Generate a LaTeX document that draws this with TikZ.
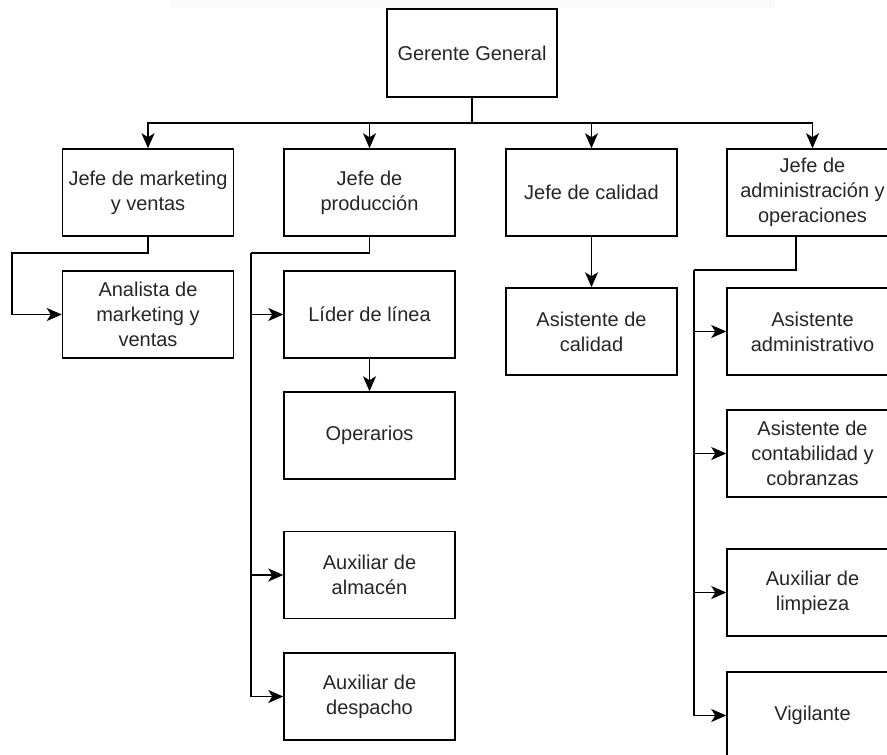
\documentclass[tikz,border=0pt]{standalone}
\usepackage{fontspec}
\setmainfont{Liberation Sans}
\usetikzlibrary{arrows.meta}
\tikzset{
  box/.style={draw=black, line width=1.5pt, minimum width=171pt, minimum height=87pt,
    align=center, inner sep=2pt, text=black!85,
    font=\fontsize{20}{25}\selectfont},
  link/.style={draw=black, line width=1.5pt},
  arr/.style={link, -{Stealth[length=15pt,width=13pt,inset=4pt]}}
}
\begin{document}
\begin{tikzpicture}[x=1pt,y=-1pt]
\useasboundingbox (0,0) rectangle (887,755);
\clip (0,0) rectangle (887,755);
\fill[white] (0,0) rectangle (887,755);
% faint watermark band
\fill[gray!4] (170,0) rectangle (775,8);

\node[box, minimum width=170pt, minimum height=88pt] (GG) at (472,53) {Gerente General};

\node[box] (JM) at (148,192.5) {Jefe de marketing\\y ventas};
\node[box] (JP) at (369.5,192.5) {Jefe de\\producción};
\node[box] (JC) at (591.5,192.5) {Jefe de calidad};
\node[box] (JA) at (812.5,192.5) {Jefe de\\administración y\\operaciones};

\node[box] (AM) at (148,314.5) {Analista de\\marketing y\\ventas};
\node[box] (LL) at (369.5,314.5) {Líder de línea};
\node[box] (OP) at (369.5,435.5) {Operarios};
\node[box] (AA) at (369.5,575) {Auxiliar de\\almacén};
\node[box] (AD) at (369.5,696.5) {Auxiliar de\\despacho};

\node[box] (ACal) at (591.5,331.5) {Asistente de\\calidad};

\node[box] (AAdm) at (812.5,331.5) {Asistente\\administrativo};
\node[box] (ACont) at (812.5,453.5) {Asistente de\\contabilidad y\\cobranzas};
\node[box] (AL) at (812.5,592.5) {Auxiliar de\\limpieza};
\node[box] (VG) at (812.5,715.5) {Vigilante};

% top bus
\coordinate (bus) at (472,123);
\draw[link] (GG.south) -- (bus);
\draw[arr] (bus) -| (JM.north);
\draw[arr] (bus) -| (JP.north);
\draw[arr] (bus) -| (JC.north);
\draw[arr] (bus) -| (JA.north);

% marketing
\coordinate (m1) at (12,253);
\draw[arr] (JM.south) |- (m1) |- (AM.west);

% produccion
\coordinate (p1) at (251,253);
\draw[link] (JP.south) |- (p1);
\draw[arr] (p1) |- (LL.west);
\draw[arr] (p1) |- (AA.west);
\draw[arr] (p1) |- (AD.west);
\draw[arr] (LL.south) -- (OP.north);

% calidad
\draw[arr] (JC.south) -- (ACal.north);

% administracion
\coordinate (a1) at (694,270);
\draw[link] ([xshift=-16.5pt]JA.south) |- (a1);
\draw[arr] (a1) |- (AAdm.west);
\draw[arr] (a1) |- (ACont.west);
\draw[arr] (a1) |- (AL.west);
\draw[arr] (a1) |- (VG.west);
\end{tikzpicture}
\end{document}
